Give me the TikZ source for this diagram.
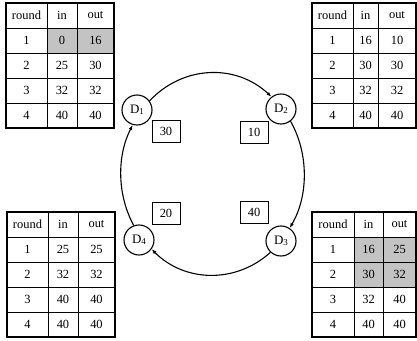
\documentclass[tikz,border=0pt]{standalone}
\usepackage{fontspec}
\setmainfont{Liberation Serif}
\usetikzlibrary{arrows.meta}
\definecolor{cellgray}{RGB}{195,195,195}
\tikzset{
  cell/.style={inner sep=0pt, font=\fontsize{12.5}{14}\selectfont},
  dev/.style={circle, draw, line width=1.1bp, minimum size=30bp, inner sep=0pt, fill=white, font=\fontsize{13}{14}\selectfont},
  valbox/.style={draw, line width=0.9bp, minimum width=28bp, minimum height=22bp, inner sep=0pt, font=\fontsize{12.5}{14}\selectfont},
  ring/.style={line width=1.1bp, -{Latex[length=5bp,width=3.6bp]}},
  inner/.style={line width=0.9bp},
  outer/.style={line width=1.3bp}
}
\newcommand\mktab[7]{%
  \foreach \ra/\rb/\rc [count=\i from 0] in {#7} {
    \pgfmathsetmacro\yc{341-(#6+\i*25+12.5)}
    \node[cell] (#1-\i-a) at ({(#2+#3)/2},\yc) {\ra};
    \node[cell] (#1-\i-b) at ({(#3+#4)/2},\yc) {\rb};
    \node[cell] (#1-\i-c) at ({(#4+#5)/2},\yc) {\rc};
  }
  \foreach \k in {1,...,4} {
    \draw[inner] (#2,{341-(#6+\k*25)}) -- (#5,{341-(#6+\k*25)});
  }
  \draw[inner] (#3,{341-#6}) -- (#3,{341-(#6+125)});
  \draw[inner] (#4,{341-#6}) -- (#4,{341-(#6+125)});
  \draw[outer] (#2,{341-#6}) rectangle (#5,{341-(#6+125)});
}
\newcommand\dlab[1]{D\raisebox{-0.8bp}{\fontsize{9}{9}\selectfont #1}}
\begin{document}
\begin{tikzpicture}[x=1bp,y=1bp]
\useasboundingbox (0,0) rectangle (417,341);
% shaded cells
\fill[cellgray] (47,{341-29}) rectangle (114,{341-54});
\fill[cellgray] (354,{341-237}) rectangle (416,{341-287});
% tables
\mktab{tl}{6}{47}{77}{114}{3}{round/in/out,1/0/16,2/25/30,3/32/32,4/40/40}
\mktab{tr}{312}{353}{378}{416}{3}{round/in/out,1/16/10,2/30/30,3/32/32,4/40/40}
\mktab{bl}{7}{48}{78}{115}{212}{round/in/out,1/25/25,2/32/32,3/40/40,4/40/40}
\mktab{br}{312}{354}{383}{416}{212}{round/in/out,1/16/25,2/30/32,3/32/40,4/40/40}
% devices
\node[dev] (D1) at (137,231) {\dlab{1}};
\node[dev] (D2) at (281,232) {\dlab{2}};
\node[dev] (D3) at (281,100) {\dlab{3}};
\node[dev] (D4) at (139,101) {\dlab{4}};
% ring (elliptical arcs)
\draw[ring] (D1.36) .. controls (183.0,275.8) and (236.0,277.5) .. (D2.128);
\draw[ring] (D2.-52) .. controls (308.9,187.1) and (308.5,145.2) .. (D3.56);
\draw[ring] (D3.227) .. controls (235.7,57.2) and (184.6,58.6) .. (D4.-36);
\draw[ring] (D4.110) .. controls (117.1,146.2) and (116.7,185.0) .. (D1.254);
% values
\node[valbox] (v1) at (166,210) {30};
\node[valbox] (v2) at (254,209) {10};
\node[valbox] (v3) at (166,128) {20};
\node[valbox] (v4) at (254,128.5) {40};
\end{tikzpicture}
\end{document}
